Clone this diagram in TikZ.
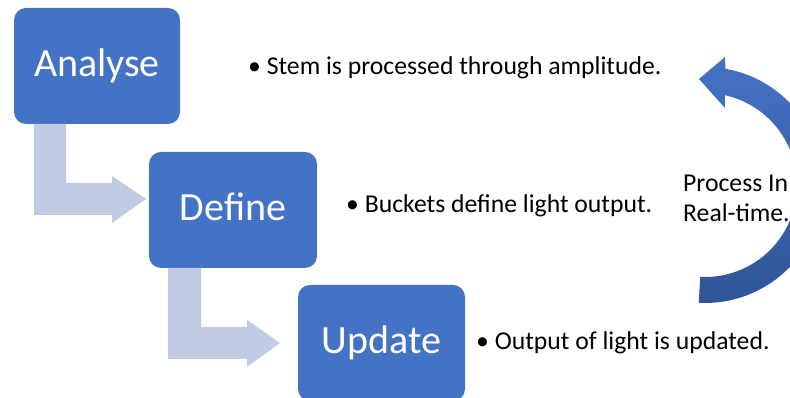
\documentclass[tikz,border=0pt]{standalone}
\usepackage{fontspec}
\setmainfont{Carlito}
\definecolor{boxblue}{RGB}{68,114,196}
\definecolor{paleblue}{RGB}{193,203,228}
\definecolor{arcdark}{RGB}{47,85,151}
\begin{document}
\begin{tikzpicture}[x=1pt,y=1pt,
  stage/.style={fill=boxblue, rounded corners=12pt, minimum width=166pt,
    minimum height=116pt, inner sep=0pt, text=white,
    font=\fontsize{40}{48}\selectfont, text height=26pt, text depth=4pt},
  note/.style={font=\fontsize{25.7}{30}\selectfont, anchor=base west, inner sep=0pt},
  flow/.style={fill=paleblue}]
\useasboundingbox (0,0) rectangle (790,398);
\clip (0,0) rectangle (790,398);

% stage boxes
\node[stage] (analyse) at (97,332) {Analyse};
\node[stage, minimum width=168pt] (define) at (233,188) {Define};
\node[stage, minimum width=167pt] (update) at (381.5,55) {Update};

% pale bent arrows leading from one stage to the next
\fill[flow] (34,274) -- (66,274) -- (66,215) -- (112,215) -- (112,222)
  -- (146,199) -- (112,175) -- (112,183) -- (34,183) -- cycle;
\fill[flow] (168,130) -- (201,130) -- (201,71) -- (247,71) -- (247,78)
  -- (280,55) -- (247,31) -- (247,39) -- (168,39) -- cycle;

% circular arrow for the real-time loop
\shade[top color=boxblue, bottom color=arcdark]
  (698.8,95.2) arc[start angle=-93, end angle=80, radius=118pt]
  -- (725,341) -- (699,319) -- (725,290)
  -- (724.9,302.8) arc[start angle=77.5, end angle=-93, radius=92pt] -- cycle;

% descriptions
\node[note] (stem) at (248,323) {• Stem is processed through amplitude.};
\node[note] (buckets) at (346,185) {• Buckets define light output.};
\node[note] (output) at (476,48) {• Output of light is updated.};
\node[note] (procA) at (683,206) {Process In};
\node[note] (procB) at (683,176) {Real-time.};
\end{tikzpicture}
\end{document}
